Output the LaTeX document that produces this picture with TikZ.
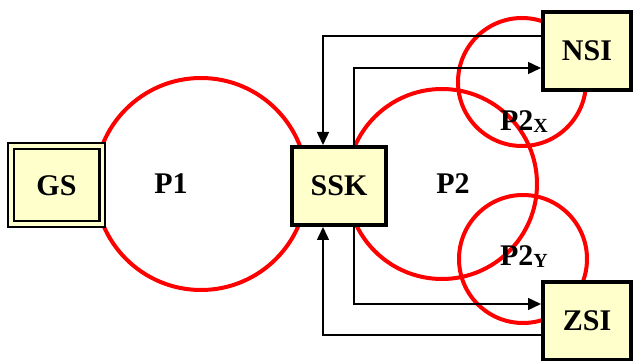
\documentclass[tikz,border=0pt]{standalone}
\usepackage{fontspec}
\setmainfont{Liberation Serif}
\usepackage{tikz}
\usetikzlibrary{arrows.meta, positioning, calc}

\definecolor{boxfill}{HTML}{FFFFCC}

\begin{document}
\begin{tikzpicture}[
        x=1pt, y=1pt,
        box/.style={rectangle, draw, line width=4pt, fill=boxfill, minimum width=88pt, minimum height=78pt, align=center, font=\fontsize{30}{36}\selectfont\bfseries},
        ring/.style={draw=red, line width=4pt},
        lbl/.style={font=\fontsize{30}{36}\selectfont\bfseries, inner sep=0pt},
        arrow/.style={-{Triangle[length=13pt, width=12pt]}, line width=1.5pt}
    ]
        \useasboundingbox (0,0) rectangle (633,361);

        % 1. Circles
        \draw [ring] (201,177) circle (106);
        \draw [ring] (442,177) circle (95);
        \draw [ring] (522,279) circle (64);
        \draw [ring] (523,102) circle (64);

        % 2. Stations
        \node (gs) [box, line width=2.2pt, double=boxfill, double distance=3.5pt, minimum width=91.5pt, minimum height=78pt] at (56.5,175.75) {GS};
        \node (ssk) [box, minimum width=94pt] at (339,175) {SSK};
        \node (nsi) [box] at (587,310) {NSI};
        \node (zsi) [box] at (587,40) {ZSI};

        % 3. Labels
        \node (p1) [lbl] at (171,177.5) {P1};
        \node (p2) [lbl] at (453,177) {P2};
        \node (p2x) [lbl] at (524,239) {P2\raisebox{-2pt}{\fontsize{20}{22}\selectfont X}};
        \node (p2y) [lbl] at (524,104) {P2\raisebox{-2pt}{\fontsize{20}{22}\selectfont Y}};

        % Connections
        \draw [arrow] ([yshift=15pt]nsi.west) -| ([xshift=-16pt]ssk.north);
        \draw [arrow] ([xshift=15pt]ssk.north) |- ([yshift=-17pt]nsi.west);
        \draw [arrow] ([xshift=15pt]ssk.south) |- ([yshift=17pt]zsi.west);
        \draw [arrow] ([yshift=-14pt]zsi.west) -| ([xshift=-16pt]ssk.south);
    \end{tikzpicture}
\end{document}
